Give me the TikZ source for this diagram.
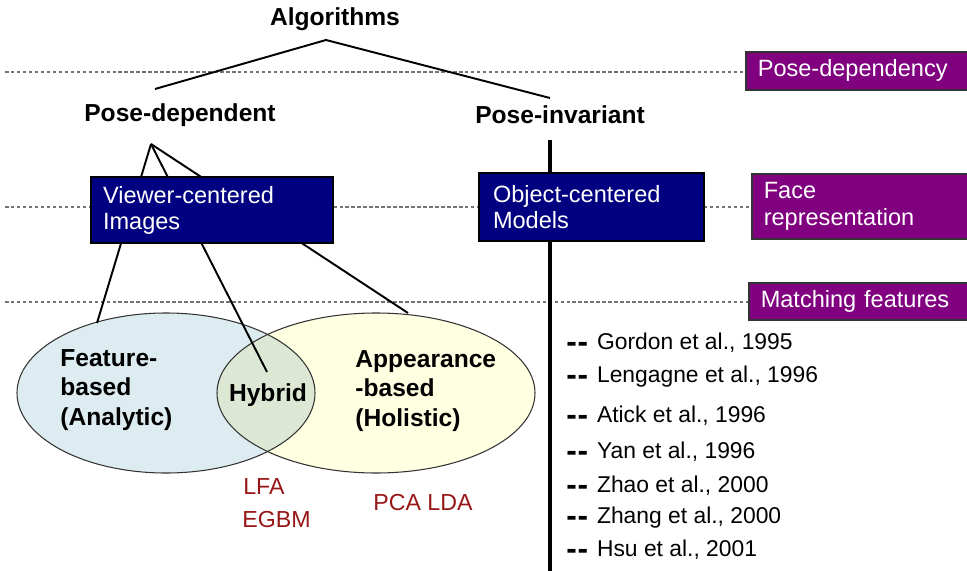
\documentclass[tikz,border=0pt]{standalone}
\usepackage{fontspec}
\setmainfont{Liberation Sans}
\usepackage{xcolor}
\usepackage{tikz}
\usetikzlibrary{positioning, calc}
\definecolor{BoxNavy}{RGB}{0,0,128}
\definecolor{TagPurple}{RGB}{128,0,128}
\definecolor{FeatBlue}{RGB}{221,236,240}
\definecolor{ApprYellow}{RGB}{255,255,226}
\definecolor{HybGreen}{RGB}{221,232,212}
\definecolor{MethodRed}{RGB}{150,22,22}
\definecolor{GuideGray}{RGB}{115,115,115}
\tikzset{
  tierlabel/.style={font=\fontsize{14}{17}\selectfont\bfseries, inner sep=0pt},
  repbox/.style={draw=black, line width=1.1pt, fill=BoxNavy, text=white, align=left,
    font=\fontsize{13.4}{14.8}\selectfont, inner ysep=0pt},
  tagbox/.style={draw=black!80, line width=0.9pt, fill=TagPurple, text=white, anchor=north west,
    align=left, font=\fontsize{13.4}{15.3}\selectfont, inner xsep=0.24cm, inner ysep=0pt,
    minimum width=5cm, text width=4.52cm},
  guide/.style={GuideGray, line width=0.6pt, dash pattern=on 2pt off 1.4pt},
  branch/.style={black, line width=1.1pt},
  trunk/.style={black, line width=2.2pt},
  ellborder/.style={draw=black!80, line width=0.6pt},
  ellabel/.style={anchor=west, align=left, font=\fontsize{14}{17}\selectfont\bfseries, inner sep=0pt},
  methodlabel/.style={MethodRed, anchor=west, font=\fontsize{13.2}{15}\selectfont, inner sep=0pt},
  citation/.style={anchor=west, font=\fontsize{13}{15}\selectfont, inner sep=0pt},
}

\begin{document}
\begin{tikzpicture}[x=0.02cm, y=-0.02cm]
  \useasboundingbox (0,0) rectangle (967,571);

  % category tags on the right
  \node[tagbox, minimum height=0.76cm] (tagpose) at (745,51) {Pose-dependency};
  \node[tagbox, minimum height=1.3cm] (tagface) at (751,173) {Face\\representation};
  \node[tagbox, minimum height=0.74cm] (tagmatch) at (748,282) {Matching features};

  % dashed guides
  \coordinate (g1) at (5,72);
  \coordinate (g2) at (5,207);
  \coordinate (g3) at (5,302);
  \draw[guide] (g1) -- (g1 -| tagpose.west);
  \draw[guide] (g2) -- (g2 -| tagface.west);
  \draw[guide] (g3) -- (g3 -| tagmatch.west);

  % ellipses
  \fill[FeatBlue] (166,393) ellipse (149 and 80);
  \fill[ApprYellow] (376,393) ellipse (159 and 80);
  \begin{scope}
    \clip (166,393) ellipse (149 and 80);
    \fill[HybGreen] (376,393) ellipse (159 and 80);
  \end{scope}
  \draw[ellborder] (166,393) ellipse (149 and 80);
  \draw[ellborder] (376,393) ellipse (159 and 80);

  % tree
  \node[tierlabel] (alg) at (335,19) {Algorithms};
  \node[tierlabel] (posedep) at (180,115) {Pose-dependent};
  \node[tierlabel] (poseinv) at (560,115) {Pose-invariant};
  \coordinate (algtip) at (326,40);
  \coordinate (depend-end) at (155,89);
  \coordinate (invar-end) at (550,98);
  \draw[branch] (depend-end) -- (algtip) -- (invar-end);

  \coordinate (deptip) at (151,144);
  \coordinate (feat-end) at (97,323);
  \coordinate (hyb-end) at (267,372);
  \coordinate (appr-end) at (408,313);
  \draw[branch] (deptip) -- (feat-end);
  \draw[branch] (deptip) -- (hyb-end);
  \draw[branch] (deptip) -- (appr-end);

  \coordinate (invtip) at (550,140);
  \coordinate (invbase) at (550,580);
  \draw[trunk] (invtip) -- (invbase);

  % representation boxes
  \node[repbox, minimum width=4.84cm, minimum height=1.32cm, inner xsep=0.24cm, text width=4.36cm]
    (viewer) at (212,210) {Viewer-centered\\Images};
  \node[repbox, minimum width=4.5cm, minimum height=1.36cm, inner xsep=0.28cm, text width=3.94cm]
    (object) at (591.5,207) {Object-centered\\Models};

  % ellipse texts
  \node[ellabel] (feat) at (60,390) {Feature-\\based\\(Analytic)};
  \node[ellabel] (appr) at (355,391) {Appearance\\-based\\(Holistic)};
  \node[tierlabel] (hyb) at (268,395) {Hybrid};

  \node[methodlabel] (lfa) at (243,487) {LFA};
  \node[methodlabel] (egbm) at (242,520) {EGBM};
  \node[methodlabel] (pcalda) at (373,503) {PCA LDA};

  % pose-invariant references
  \foreach \y/\t [count=\i] in {343/{Gordon et al., 1995}, 377/{Lengagne et al., 1996},
      416/{Atick et al., 1996}, 452/{Yan et al., 1996}, 486/{Zhao et al., 2000},
      518/{Zhang et al., 2000}, 550/{Hsu et al., 2001}} {
    \node[citation] (ref\i) at (566,\y)
      {\raisebox{-1.3pt}{\bfseries\fontsize{18}{18}\selectfont-\kern0.5pt-}\hspace{5pt}\t};
  }
\end{tikzpicture}
\end{document}
